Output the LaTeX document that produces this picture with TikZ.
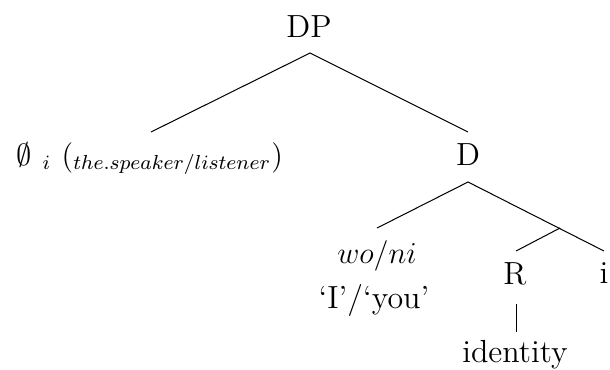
\documentclass[tikz,border=0pt,12pt]{standalone}
\DeclareMathSizes{12.6}{12.6}{8.4}{6.3}
\begin{document}
\begin{tikzpicture}[x=0.3937pt,y=-0.3937pt,
  lbl/.style={inner sep=0pt,outer sep=0pt,anchor=base,font=\fontsize{12.6}{15}\selectfont},
  edge/.style={line width=0.4pt,black}]
\useasboundingbox (0,0) rectangle (610,369);
% labels
\node[lbl] (dp) at (309,37) {DP};
\node[lbl] (spk) at (150,165) {$\emptyset$ $_i$ $(_{the.speaker/listener})$};
\node[lbl] (d) at (468,165) {D};
\node[lbl] (woni) at (377,263) {$wo/ni$};
\node[lbl] (gloss) at (374,308) {`I'/`you'};
\node[lbl] (r) at (515,284) {R};
\node[lbl] (i) at (604,283) {i};
\node[lbl] (ident) at (515,362) {identity};
% connector end points
\coordinate (dpT) at (310,53);
\coordinate (spkT) at (151,132);
\coordinate (dT) at (468,132);
\coordinate (dB) at (468,182);
\coordinate (woniT) at (377,228);
\coordinate (iT) at (604,251);
\coordinate (br) at (560,228);
\coordinate (rT) at (516,251);
\coordinate (rB) at (516,304);
\coordinate (identT) at (516,332);
% connectors
\draw[edge] (spkT) -- (dpT) -- (dT);
\draw[edge] (woniT) -- (dB) -- (iT);
\draw[edge] (br) -- (rT);
\draw[edge] (rB) -- (identT);
\end{tikzpicture}
\end{document}
